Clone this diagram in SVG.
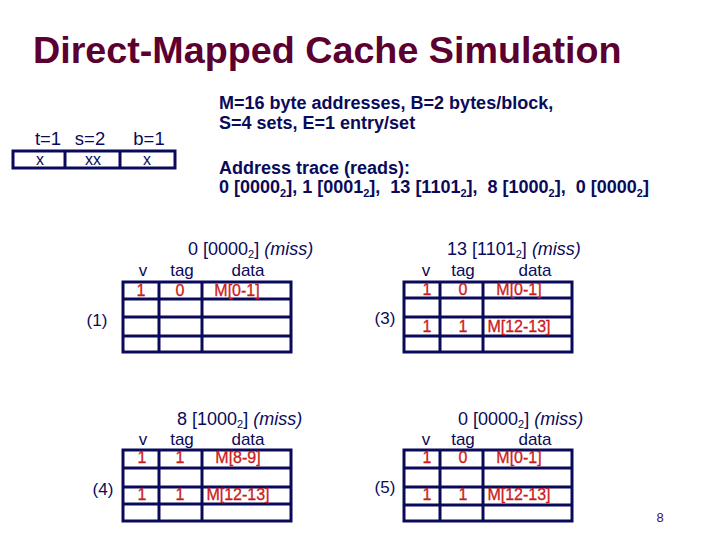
<svg xmlns="http://www.w3.org/2000/svg" width="720" height="540" viewBox="0 0 720 540">
<style>
text{font-family:"Liberation Sans",Arial,sans-serif;}
.title{font-size:37.7px;font-weight:bold;fill:#5c0030;}
.info{font-size:18px;font-weight:bold;fill:#0a0a5a;}
.hd{font-size:18px;fill:#0a0a5a;}
.lbl{font-size:17px;fill:#0a0a5a;text-anchor:middle;}
.bl{font-size:18.5px;}
.val{font-size:16px;fill:#cc1a1a;text-anchor:middle;stroke:#cc1a1a;stroke-width:0.3;}
.sub{font-size:11px;}
.grid{fill:none;stroke:#0a0a5a;stroke-width:3;}
.pg{font-size:13px;fill:#4a1040;}
</style>
<rect width="720" height="540" fill="#ffffff"/>
<g id="title"><text class="title" x="33" y="63">Direct-Mapped Cache Simulation</text></g>
<g id="bits">
<text class="lbl bl" x="48" y="145">t=1</text>
<text class="lbl bl" x="90" y="145">s=2</text>
<text class="lbl bl" x="149" y="145">b=1</text>
<rect class="grid" x="13" y="151" width="162" height="17" stroke-width="2.5"/>
<line class="grid" x1="65" y1="151" x2="65" y2="168" stroke-width="2.5"/>
<line class="grid" x1="120" y1="151" x2="120" y2="168" stroke-width="2.5"/>
<text class="lbl" x="40" y="165" style="font-size:16px">x</text>
<text class="lbl" x="93" y="165" style="font-size:16px">xx</text>
<text class="lbl" x="147" y="165" style="font-size:16px">x</text>
</g>
<g id="info">
<text class="info" x="219" y="109">M=16 byte addresses, B=2 bytes/block,</text>
<text class="info" x="219" y="129">S=4 sets, E=1 entry/set</text>
<text class="info" x="219" y="174">Address trace (reads):</text>
<text class="info" x="219" y="193" xml:space="preserve">0 [0000<tspan class="sub" dy="4">2</tspan><tspan dy="-4">], 1 [0001</tspan><tspan class="sub" dy="4">2</tspan><tspan dy="-4">],  13 [1101</tspan><tspan class="sub" dy="4">2</tspan><tspan dy="-4">],  8 [1000</tspan><tspan class="sub" dy="4">2</tspan><tspan dy="-4">],  0 [0000</tspan><tspan class="sub" dy="4">2</tspan><tspan dy="-4">]</tspan></text>
</g>
<g id="cache1">
<text class="hd" x="188" y="255">0 [0000<tspan class="sub" dy="3">2</tspan><tspan dy="-3">] </tspan><tspan font-style="italic">(miss)</tspan></text>
<text class="lbl" x="143" y="276">v</text>
<text class="lbl" x="182" y="276">tag</text>
<text class="lbl" x="248" y="276">data</text>
<rect class="grid" x="123" y="282" width="168" height="70"/>
<line class="grid" x1="123" y1="299" x2="291" y2="299"/>
<line class="grid" x1="123" y1="317" x2="291" y2="317"/>
<line class="grid" x1="123" y1="336" x2="291" y2="336"/>
<line class="grid" x1="159" y1="282" x2="159" y2="352"/>
<line class="grid" x1="202" y1="282" x2="202" y2="352"/>
<text class="val" x="141" y="296">1</text>
<text class="val" x="180" y="296">0</text>
<text class="val" x="237" y="296">M[0-1]</text>
<text class="lbl" x="97" y="326">(1)</text>
</g>
<g id="cache3">
<text class="hd" x="447" y="255">13 [1101<tspan class="sub" dy="3">2</tspan><tspan dy="-3">] </tspan><tspan font-style="italic">(miss)</tspan></text>
<text class="lbl" x="426" y="276">v</text>
<text class="lbl" x="463" y="276">tag</text>
<text class="lbl" x="535" y="276">data</text>
<rect class="grid" x="404" y="282" width="168" height="70"/>
<line class="grid" x1="404" y1="298" x2="572" y2="298"/>
<line class="grid" x1="404" y1="317" x2="572" y2="317"/>
<line class="grid" x1="404" y1="336" x2="572" y2="336"/>
<line class="grid" x1="440" y1="282" x2="440" y2="352"/>
<line class="grid" x1="483" y1="282" x2="483" y2="352"/>
<text class="val" x="427" y="295">1</text>
<text class="val" x="463" y="295">0</text>
<text class="val" x="519" y="295">M[0-1]</text>
<text class="val" x="427" y="332">1</text>
<text class="val" x="463" y="332">1</text>
<text class="val" x="519" y="332">M[12-13]</text>
<text class="lbl" x="385" y="324">(3)</text>
</g>
<g id="cache4">
<text class="hd" x="177" y="425">8 [1000<tspan class="sub" dy="3">2</tspan><tspan dy="-3">] </tspan><tspan font-style="italic">(miss)</tspan></text>
<text class="lbl" x="143" y="445">v</text>
<text class="lbl" x="182" y="445">tag</text>
<text class="lbl" x="248" y="445">data</text>
<rect class="grid" x="123" y="450" width="168" height="71"/>
<line class="grid" x1="123" y1="468" x2="291" y2="468"/>
<line class="grid" x1="123" y1="487" x2="291" y2="487"/>
<line class="grid" x1="123" y1="504" x2="291" y2="504"/>
<line class="grid" x1="159" y1="450" x2="159" y2="521"/>
<line class="grid" x1="202" y1="450" x2="202" y2="521"/>
<text class="val" x="142" y="463">1</text>
<text class="val" x="180" y="463">1</text>
<text class="val" x="238" y="463">M[8-9]</text>
<text class="val" x="142" y="500">1</text>
<text class="val" x="180" y="500">1</text>
<text class="val" x="238" y="500">M[12-13]</text>
<text class="lbl" x="103" y="495">(4)</text>
</g>
<g id="cache5">
<text class="hd" x="458" y="425">0 [0000<tspan class="sub" dy="3">2</tspan><tspan dy="-3">] </tspan><tspan font-style="italic">(miss)</tspan></text>
<text class="lbl" x="426" y="445">v</text>
<text class="lbl" x="463" y="445">tag</text>
<text class="lbl" x="535" y="445">data</text>
<rect class="grid" x="404" y="450" width="168" height="71"/>
<line class="grid" x1="404" y1="468" x2="572" y2="468"/>
<line class="grid" x1="404" y1="487" x2="572" y2="487"/>
<line class="grid" x1="404" y1="505" x2="572" y2="505"/>
<line class="grid" x1="440" y1="450" x2="440" y2="521"/>
<line class="grid" x1="483" y1="450" x2="483" y2="521"/>
<text class="val" x="427" y="463">1</text>
<text class="val" x="463" y="463">0</text>
<text class="val" x="519" y="463">M[0-1]</text>
<text class="val" x="427" y="500">1</text>
<text class="val" x="463" y="500">1</text>
<text class="val" x="519" y="500">M[12-13]</text>
<text class="lbl" x="385" y="493">(5)</text>
</g>
<g id="connectors"></g>
<g id="page"><text class="pg" x="660" y="522" text-anchor="middle">8</text></g>
</svg>
